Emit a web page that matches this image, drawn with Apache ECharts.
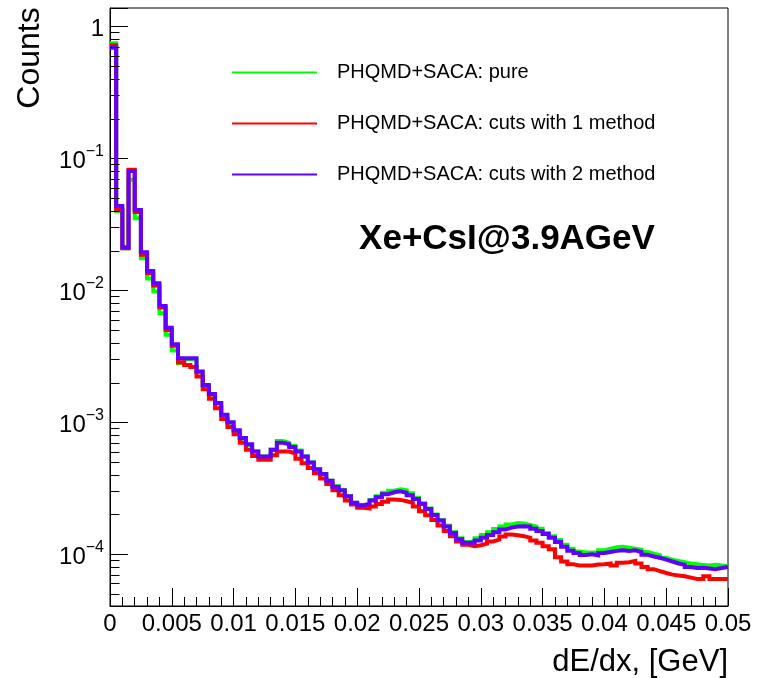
<!DOCTYPE html>
<html>
<head>
<meta charset="utf-8">
<script src="https://cdn.jsdelivr.net/npm/echarts@6/dist/echarts.min.js"></script>
<style>
html,body{margin:0;padding:0;background:#fff;}
#chart{width:757px;height:678px;}
</style>
</head>
<body>
<div id="chart"></div>
<script>
// ---- histogram definition ----
const X_MIN = 0;
const X_MAX = 0.05;
const BIN_WIDTH = 0.0005;
const binLowEdges = Array.from({length: 100}, (_, i) => +(i * BIN_WIDTH).toFixed(4));

const seriesNames = [
  'PHQMD+SACA: pure',
  'PHQMD+SACA: cuts with 1 method',
  'PHQMD+SACA: cuts with 2 method'
];

// bin contents
const pureCounts = [
  0.745, 0.040, 0.0208, 0.069, 0.0352, 0.0175, 0.0123, 0.0098, 0.0067, 0.0046,
  0.0035, 0.0028, 0.0030, 0.0030, 0.0024, 0.0019, 0.00162, 0.00138, 0.00112, 0.00099,
  0.00086, 0.00075, 0.00067, 0.00060, 0.00055, 0.00055, 0.00062, 0.00072, 0.00070, 0.00066,
  0.00061, 0.00055, 0.000495, 0.00044, 0.000405, 0.00036, 0.000328, 0.000305, 0.000275, 0.000245,
  0.000235, 0.00024, 0.000258, 0.000275, 0.000292, 0.000303, 0.00031, 0.000305, 0.00029, 0.000268,
  0.000243, 0.000222, 0.0002, 0.000182, 0.000164, 0.000147, 0.000132, 0.000124, 0.000125, 0.000132,
  0.00014, 0.000147, 0.000155, 0.000162, 0.000168, 0.000172, 0.000171, 0.000167, 0.000162, 0.000156,
  0.000145, 0.000137, 0.000128, 0.000118, 0.00011, 0.000105, 0.000103, 0.000103, 0.000103, 0.000107,
  0.00011, 0.000113, 0.000114, 0.000112, 0.00011, 0.000108, 0.000104, 0.000101, 0.000098, 0.000094,
  0.000091, 0.000089, 0.000087, 0.000085, 0.000084, 0.000083, 0.000082, 0.000083, 0.000082, 0.000081
];

const cuts1Counts = [
  0.72, 0.041, 0.0208, 0.082, 0.0392, 0.0186, 0.0135, 0.0109, 0.0074, 0.0050,
  0.0038, 0.00285, 0.00272, 0.00262, 0.00222, 0.00178, 0.00151, 0.00128, 0.00106, 0.00092,
  0.00081, 0.00070, 0.00062, 0.000554, 0.00052, 0.00052, 0.000562, 0.00060, 0.00060, 0.00058,
  0.00053, 0.00049, 0.00045, 0.00041, 0.000375, 0.00034, 0.000305, 0.00028, 0.000255, 0.000238,
  0.000225, 0.000222, 0.00023, 0.00024, 0.00025, 0.00026, 0.000258, 0.000252, 0.000245, 0.00023,
  0.000212, 0.000197, 0.000182, 0.000165, 0.00015, 0.000137, 0.000125, 0.000118, 0.000115, 0.000117,
  0.00012, 0.000125, 0.000129, 0.000136, 0.000141, 0.000139, 0.000137, 0.000133, 0.000127, 0.000122,
  0.000115, 0.000109, 0.000095, 0.000088, 0.000084, 0.000082, 0.000082, 0.000082, 0.0000835, 0.000084,
  0.000085, 0.000082, 0.000086, 0.000087, 0.000089, 0.000085, 0.00008, 0.000077, 0.0000745, 0.000072,
  0.00007, 0.000069, 0.000068, 0.0000665, 0.000065, 0.000065, 0.000068, 0.000065, 0.000065, 0.000065
];

const cuts2Counts = [
  0.69, 0.0435, 0.0212, 0.0804, 0.0406, 0.0194, 0.0140, 0.0113, 0.0076, 0.0052,
  0.0039, 0.00306, 0.00306, 0.00306, 0.00243, 0.00192, 0.00164, 0.00140, 0.00114, 0.00100,
  0.00087, 0.00076, 0.00068, 0.00060, 0.00055, 0.00055, 0.00062, 0.00070, 0.00068, 0.00065,
  0.00060, 0.00055, 0.000495, 0.00044, 0.000405, 0.00036, 0.000325, 0.000305, 0.000275, 0.000245,
  0.000235, 0.00024, 0.000255, 0.00027, 0.000285, 0.000295, 0.0003, 0.000292, 0.00028, 0.000262,
  0.00024, 0.00022, 0.000198, 0.00018, 0.000162, 0.000145, 0.00013, 0.000122, 0.000122, 0.000127,
  0.000133, 0.00014, 0.000147, 0.000154, 0.000159, 0.000162, 0.000163, 0.000162, 0.000156, 0.00015,
  0.000142, 0.000133, 0.000124, 0.000114, 0.000106, 0.000102, 0.0000985, 0.0001, 0.000098, 0.000102,
  0.000104, 0.000106, 0.000107, 0.000106, 0.000107, 0.000104, 0.000099, 0.000096, 0.000094, 0.000091,
  0.000088, 0.000085, 0.000083, 0.00008, 0.0000785, 0.000079, 0.000078, 0.000077, 0.0000785, 0.00008
];

const seriesColors = ['#00ff00', '#ff0000', '#6200ff'];

// axis ticks
const xTickLabels = ['0','0.005','0.01','0.015','0.02','0.025','0.03','0.035','0.04','0.045','0.05'];
const Y_MIN = 4.05e-5;
const Y_MAX = 1.38;
const yMinorTicks = [];
for (let e = -5; e <= 0; e++) {
  for (let m = 2; m <= 9; m++) {
    const v = m * Math.pow(10, e);
    if (v > Y_MIN && v < Y_MAX) yMinorTicks.push(v);
  }
}

function histData(counts) {
  const pts = counts.map((c, i) => [binLowEdges[i], c]);
  pts.push([X_MAX, counts[counts.length - 1]]);
  return pts;
}

const chart = echarts.init(document.getElementById('chart'), null, {renderer: 'canvas'});
const FONT = '"Liberation Sans", Arial, Helvetica, sans-serif';

const lineSeries = [pureCounts, cuts1Counts, cuts2Counts].map((counts, k) => ({
  name: seriesNames[k],
  type: 'line',
  step: 'end',
  data: histData(counts),
  showSymbol: false,
  symbol: 'none',
  clip: true,
  z: 3 + k,
  lineStyle: {color: seriesColors[k], width: 4, join: 'miter', cap: 'butt'},
  itemStyle: {color: seriesColors[k]},
  animation: false
}));

const option = {
  animation: false,
  backgroundColor: '#fff',
  textStyle: {fontFamily: FONT},
  grid: {
    left: 110, right: 29, top: 8, bottom: 71,
    show: true, borderColor: '#000', borderWidth: 1, backgroundColor: 'transparent'
  },
  legend: {
    orient: 'vertical',
    left: 232,
    top: 61,
    padding: 0,
    itemGap: 28,
    itemWidth: 85,
    itemHeight: 2,
    icon: 'rect',
    selectedMode: false,
    data: seriesNames,
    textStyle: {fontSize: 20, color: '#000', fontFamily: FONT, padding: [0, 0, 0, 15], lineHeight: 23}
  },
  xAxis: {
    type: 'value',
    min: X_MIN,
    max: X_MAX,
    interval: 0.005,
    name: 'dE/dx, [GeV]',
    nameLocation: 'end',
    nameGap: 0,
    nameTextStyle: {fontSize: 31, color: '#000', fontFamily: FONT, align: 'right', verticalAlign: 'top', padding: [41, 0, 0, 0]},
    axisLine: {show: true, lineStyle: {color: '#000', width: 1}},
    axisTick: {show: true, inside: true, length: 18, lineStyle: {color: '#000', width: 1}},
    minorTick: {show: true, splitNumber: 5, length: 9, lineStyle: {color: '#000', width: 1}},
    splitLine: {show: false},
    minorSplitLine: {show: false},
    axisLabel: {
      fontSize: 24, color: '#000', fontFamily: FONT, margin: 6,
      formatter: v => {
        const idx = Math.round(v / 0.005);
        return xTickLabels[idx] !== undefined ? xTickLabels[idx] : '';
      }
    }
  },
  yAxis: {
    type: 'log',
    logBase: 10,
    min: Y_MIN,
    max: Y_MAX,
    axisLine: {show: true, lineStyle: {color: '#000', width: 1}},
    axisTick: {show: true, inside: true, length: 18, lineStyle: {color: '#000', width: 1}},
    minorTick: {show: false},
    splitLine: {show: false},
    axisLabel: {
      margin: 6,
      color: '#000',
      fontFamily: FONT,
      formatter: v => {
        const l = Math.log10(v);
        const e = Math.round(l);
        if (Math.abs(l - e) > 1e-6) return '';
        if (e === 0) return '{a|1}';
        return '{a|10}{b|\u2212' + (-e) + '}';
      },
      rich: {
        a: {fontSize: 24, color: '#000', fontFamily: FONT, lineHeight: 30, verticalAlign: 'bottom'},
        b: {fontSize: 16, color: '#000', fontFamily: FONT, lineHeight: 30, verticalAlign: 'top', padding: [0, 0, 0, 0]}
      }
    }
  },
  graphic: [
    {
      type: 'text',
      x: 30, y: 58,
      rotation: Math.PI / 2,
      style: {text: 'Counts', font: '32px ' + FONT, fill: '#000', textAlign: 'center', textVerticalAlign: 'middle'}
    },
    {
      type: 'text',
      x: 507, y: 239,
      style: {text: 'Xe+CsI@3.9AGeV', font: 'bold 35px ' + FONT, fill: '#000', textAlign: 'center', textVerticalAlign: 'middle'}
    }
  ],
  series: lineSeries.concat([{
    type: 'custom',
    name: 'yMinorTicks',
    silent: true,
    z: 10,
    clip: false,
    data: yMinorTicks.map(v => [X_MIN, v]),
    renderItem: (params, api) => {
      const p = api.coord([api.value(0), api.value(1)]);
      const x = Math.round(p[0]) + 0.5;
      const y = Math.round(p[1]) + 0.5;
      return {type: 'line', shape: {x1: x, y1: y, x2: x + 9, y2: y}, style: {stroke: '#000', lineWidth: 1}};
    }
  }])
};
chart.setOption(option);
</script>
</body>
</html>
